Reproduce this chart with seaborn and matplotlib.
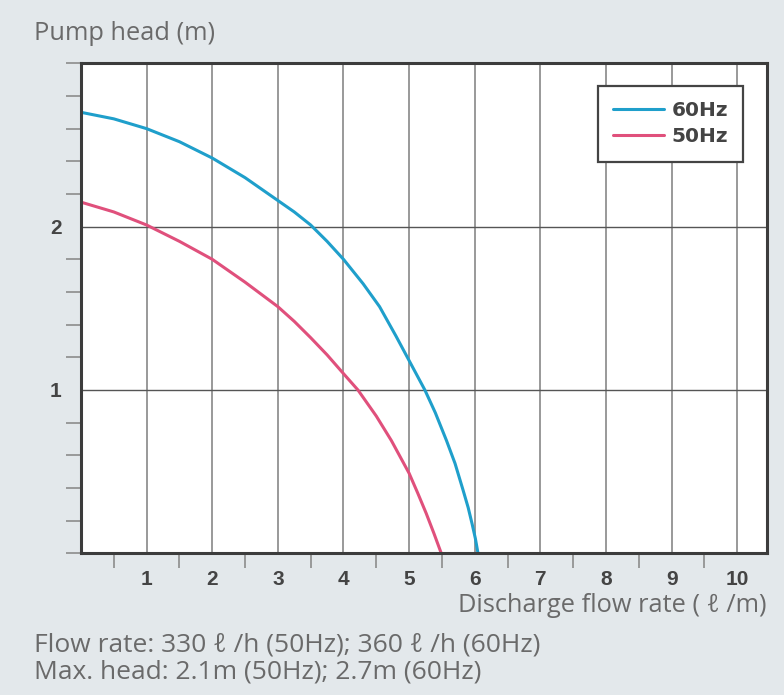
import matplotlib
matplotlib.use("Agg")
import matplotlib.pyplot as plt
import seaborn as sns
import pandas as pd
from matplotlib.ticker import MultipleLocator, FixedLocator

# curves
flow_60 = [0, 0.5, 1, 1.5, 2, 2.5, 3, 3.25, 3.5, 3.75, 4.0, 4.3, 4.55, 4.8, 5.0,
           5.24, 5.4, 5.57, 5.7, 5.82, 5.9, 5.96, 6.01, 6.05]
head_60 = [2.70, 2.66, 2.60, 2.52, 2.42, 2.30, 2.16, 2.09, 2.01, 1.91, 1.80, 1.65,
           1.51, 1.33, 1.18, 1.00, 0.86, 0.69, 0.55, 0.39, 0.28, 0.18, 0.09, 0.0]
flow_50 = [0, 0.5, 1, 1.5, 2, 2.5, 3, 3.25, 3.5, 3.75, 4.0, 4.22, 4.5, 4.73, 5.0,
           5.13, 5.26, 5.38, 5.49]
head_50 = [2.15, 2.09, 2.01, 1.91, 1.80, 1.66, 1.51, 1.42, 1.32, 1.215, 1.10, 1.00,
           0.84, 0.69, 0.49, 0.37, 0.245, 0.12, 0.0]
series = ["60Hz", "50Hz"]
colors = ["#1f9fcb", "#e0507c"]

df = pd.concat([
    pd.DataFrame({"flow": flow_60, "head": head_60, "freq": series[0]}),
    pd.DataFrame({"flow": flow_50, "head": head_50, "freq": series[1]}),
])

sns.set_style("white")
bg = "#e3e8eb"
fig = plt.figure(figsize=(7.84, 6.95), dpi=100, facecolor=bg)
ax = fig.add_axes([0.1033, 0.2039, 0.8747, 0.705])
ax.set_facecolor("white")

sns.lineplot(data=df, x="flow", y="head", hue="freq", palette=colors,
             hue_order=series, linewidth=2.2, sort=False, estimator=None, ax=ax)
for ln in ax.lines:
    ln.set_solid_joinstyle("round")

ax.set_xlim(0, 10.45)
ax.set_ylim(0, 3)

ax.xaxis.set_major_locator(FixedLocator(range(1, 11)))
ax.xaxis.set_minor_locator(FixedLocator([i + 0.5 for i in range(10)]))
ax.yaxis.set_major_locator(FixedLocator([1, 2]))
ax.yaxis.set_minor_locator(MultipleLocator(0.2))

ax.tick_params(axis="x", which="major", length=0, pad=12, labelsize=15,
               labelcolor="#444444")
ax.tick_params(axis="y", which="major", length=0, pad=14, labelsize=15,
               labelcolor="#444444")
ax.tick_params(which="minor", direction="out", length=11, width=1.2,
               color="#8c8c8c", bottom=True, left=True)
for lab in ax.get_xticklabels() + ax.get_yticklabels():
    lab.set_fontweight("bold")
    lab.set_family("Liberation Sans")

ax.grid(True, axis="x", which="major", color="#999999", linewidth=1.4)
ax.grid(True, axis="y", which="major", color="#555555", linewidth=1.0)
ax.set_axisbelow(True)

for sp in ax.spines.values():
    sp.set_color("#3c3c3c")
    sp.set_linewidth(2.2)

ax.set_xlabel("")
ax.set_ylabel("")

leg = ax.legend(title=None, loc="upper right", bbox_to_anchor=(0.966, 0.953),
                borderaxespad=0, fancybox=False, framealpha=1, edgecolor="#444444",
                prop={"weight": "bold", "size": 14.5}, handlelength=2.5,
                borderpad=0.75, labelspacing=0.35, handletextpad=0.4)
leg.get_frame().set_linewidth(1.6)
for t in leg.get_texts():
    t.set_color("#444444")

txt = "#6a6a6a"
fam = "Open Sans"
fig.text(34 / 784, 1 - 34 / 695, "Pump head (m)", fontsize=18.3, color=txt,
         ha="left", va="center", family=fam)
fig.text(767 / 784, 1 - 605 / 695, "Discharge flow rate ( \u2113 /m)", fontsize=18.3,
         color=txt, ha="right", va="center", family=fam)
fig.text(34 / 784, 1 - 645 / 695, "Flow rate: 330 \u2113 /h (50Hz); 360 \u2113 /h (60Hz)",
         fontsize=19, color=txt, ha="left", va="center", family=fam)
fig.text(34 / 784, 1 - 672 / 695, "Max. head: 2.1m (50Hz); 2.7m (60Hz)",
         fontsize=19, color=txt, ha="left", va="center", family=fam)

fig.savefig("out.png", dpi=100, facecolor=bg)
